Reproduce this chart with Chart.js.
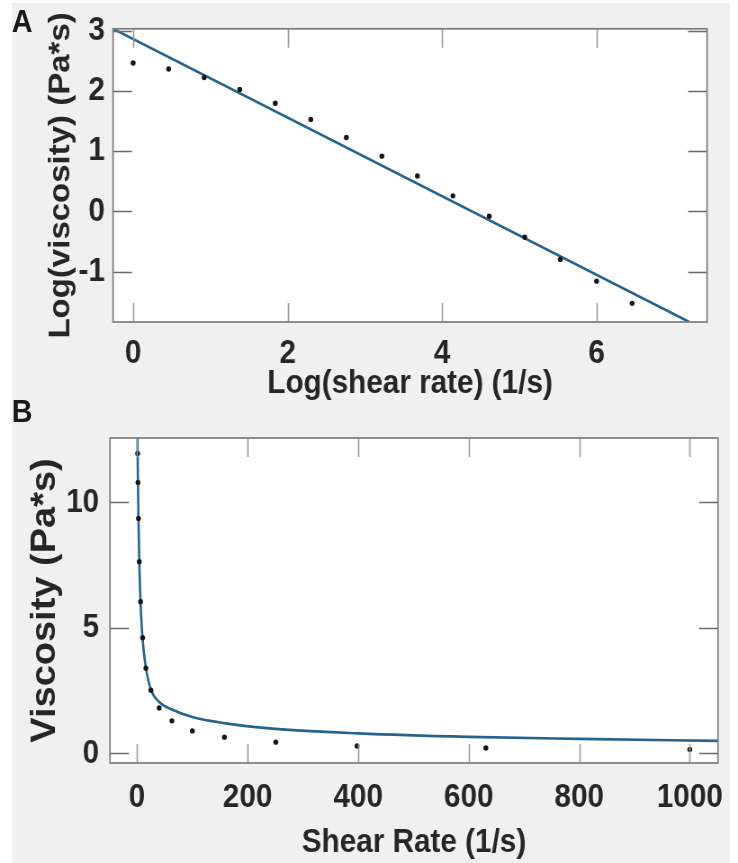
<!DOCTYPE html>
<html><head><meta charset="utf-8">
<script src="https://cdn.jsdelivr.net/npm/chart.js@4.4.0/dist/chart.umd.min.js"></script>
<style>
html,body{margin:0;padding:0;background:#fff;width:738px;height:863px;overflow:hidden;}
#bg{position:absolute;left:12px;top:3px;width:718px;height:860px;background:#f0f0f0;}
#wrap{position:absolute;left:0;top:0;width:820px;height:863px;transform:scaleX(0.9);transform-origin:0 0;}
.panel{position:absolute;font-family:"Liberation Sans",Arial,sans-serif;font-weight:bold;font-size:32px;color:#1a1a1a;line-height:32px;}
canvas{position:absolute;left:0;}
</style></head><body>
<div id="bg"></div>
<div id="wrap">
<div class="panel" style="left:13px;top:5px;">A</div>
<div class="panel" style="left:13px;top:395px;">B</div>
<canvas id="ca" width="820" height="410" style="top:0px"></canvas>
<canvas id="cb" width="820" height="463" style="top:400px"></canvas>
</div>
<script>
// Panel A: log-log data and linear fit
const logShearRate = [0, 0.46, 0.92, 1.38, 1.84, 2.30, 2.76, 3.22, 3.68, 4.14, 4.61, 5.07, 5.53, 6.00, 6.46];
const logViscosity = [2.47, 2.37, 2.23, 2.03, 1.80, 1.53, 1.23, 0.92, 0.59, 0.26, -0.08, -0.43, -0.80, -1.16, -1.53];
const logFitX = [-0.26, 7.2];
const logFitY = [3.04, -1.84];
const ticksLogX = [0, 2, 4, 6];
const ticksLogY = [-1, 0, 1, 2, 3];

// Panel B: viscosity vs shear rate and fitted curve
const shearRate = [1, 1.6, 2.5, 4, 6.3, 10, 16, 25, 40, 63, 100, 158, 251, 398, 631, 1000];
const viscosity = [11.95, 10.8, 9.36, 7.64, 6.05, 4.61, 3.40, 2.52, 1.81, 1.30, 0.90, 0.65, 0.45, 0.30, 0.22, 0.16];
const fitShearRate = [0.5, 1, 1.6, 2.5, 4, 6.3, 10, 16, 25, 40, 63, 100, 160, 250, 400, 600, 800, 1051];
const fitViscosity = [14.5, 12.0, 10.8, 9.4, 7.6, 6.0, 4.55, 3.4, 2.55, 2.05, 1.75, 1.45, 1.2, 0.98, 0.80, 0.66, 0.58, 0.50];
const ticksShear = [0, 200, 400, 600, 800, 1000];
const ticksVisc = [0, 5, 10];

const FONT = '"Liberation Sans", Arial, sans-serif';
const TXT = '#262626';

const framePlugin = {
  id: 'frame',
  beforeDraw(chart) {
    const {ctx, chartArea: a} = chart;
    ctx.save();
    ctx.fillStyle = '#ffffff';
    ctx.fillRect(a.left, a.top, a.right - a.left, a.bottom - a.top);
    ctx.restore();
  },
  afterDraw(chart) {
    const {ctx, chartArea: a, scales} = chart;
    const tlx = 19, tly = 21;
    ctx.save();
    ctx.lineWidth = 1.6;
    ctx.strokeStyle = '#9a9a9a';
    ctx.beginPath();
    scales.x.ticks.forEach(t => {
      const p = Math.round(scales.x.getPixelForValue(t.value)) + 0.5;
      ctx.moveTo(p, a.bottom); ctx.lineTo(p, a.bottom - tlx);
      ctx.moveTo(p, a.top); ctx.lineTo(p, a.top + tlx);
    });
    ctx.stroke();
    ctx.strokeStyle = '#6a6a6a';
    ctx.lineWidth = 1.5;
    ctx.beginPath();
    scales.y.ticks.forEach(t => {
      const p = Math.round(scales.y.getPixelForValue(t.value)) + 0.5;
      ctx.moveTo(a.left, p); ctx.lineTo(a.left + tly, p);
      ctx.moveTo(a.right, p); ctx.lineTo(a.right - tly, p);
    });
    ctx.stroke();
    ctx.strokeStyle = '#7c7c7c';
    ctx.lineWidth = 1.7;
    ctx.strokeRect(a.left, a.top, a.right - a.left, a.bottom - a.top);
    ctx.restore();
  }
};

function makeChart(id, cfg) {
  const pts = cfg.px.map((x, i) => ({x, y: cfg.py[i]}));
  const fit = cfg.fx.map((x, i) => ({x, y: cfg.fy[i]}));
  return new Chart(document.getElementById(id), {
    type: 'scatter',
    data: {datasets: [
      {data: pts, showLine: false, pointRadius: 2.7, pointBackgroundColor: '#151515', pointBorderWidth: 0, pointHoverRadius: 2.7},
      {data: fit, showLine: true, borderColor: '#26648e', borderWidth: 2.6, pointRadius: 0, pointHoverRadius: 0,
       cubicInterpolationMode: cfg.smooth ? 'monotone' : 'default', clip: 0}
    ]},
    options: {
      responsive: false, animation: false,
      layout: {padding: {left: 0, top: cfg.top, right: cfg.right, bottom: 0}},
      plugins: {legend: {display: false}, tooltip: {enabled: false}},
      scales: {
        x: {
          type: 'linear', min: cfg.xmin, max: cfg.xmax,
          afterBuildTicks: s => { s.ticks = cfg.xticks.map(v => ({value: v})); },
          afterFit: s => { s.height = cfg.xh; },
          grid: {display: false, drawTicks: false, tickLength: 0},
          border: {display: false},
          ticks: {padding: cfg.xpad, color: TXT, maxRotation: 0, autoSkip: false,
                  callback: v => String(v),
                  font: {family: FONT, size: 33, weight: 'bold'}},
          title: {display: true, text: cfg.xtitle, color: TXT,
                  font: {family: FONT, size: 33, weight: 'bold'}, padding: {top: cfg.xtpad, bottom: cfg.xtpad}}
        },
        y: {
          type: 'linear', min: cfg.ymin, max: cfg.ymax,
          afterBuildTicks: s => { s.ticks = cfg.yticks.map(v => ({value: v})); },
          afterFit: s => { s.width = cfg.yw; },
          grid: {display: false, drawTicks: false, tickLength: 0},
          border: {display: false},
          ticks: {padding: cfg.ypad, color: TXT, autoSkip: false,
                  callback: v => String(v),
                  font: {family: FONT, size: 33, weight: 'bold'}},
          title: {display: true, text: cfg.ytitle, color: TXT,
                  font: {family: FONT, size: cfg.ytsize, weight: 'bold'}, padding: {top: cfg.ytpad, bottom: cfg.ytpad}}
        }
      }
    },
    plugins: [framePlugin]
  });
}

// canvas is drawn 820px wide and shown squeezed to 738px (x factor 0.9)
makeChart('ca', {
  px: logShearRate, py: logViscosity, fx: logFitX, fy: logFitY, smooth: false,
  top: 21, right: 34.4, xmin: -0.26, xmax: 7.43, ymin: -1.84, ymax: 3.04,
  xticks: ticksLogX, yticks: ticksLogY, xh: 88, yw: 125.6, xpad: 12, ypad: 9,
  xtitle: 'Log(shear rate) (1/s)', xtpad: 6,
  ytitle: 'Log(viscosity) (Pa*s)', ytsize: 33, ytpad: 48
});

makeChart('cb', {
  px: shearRate, py: viscosity, fx: fitShearRate, fy: fitViscosity, smooth: true,
  top: 38, right: 22.2, xmin: -49, xmax: 1051, ymin: -0.38, ymax: 12.57,
  xticks: ticksShear, yticks: ticksVisc, xh: 100, yw: 122.2, xpad: 15, ypad: 12,
  xtitle: 'Shear Rate (1/s)', xtpad: 0,
  ytitle: 'Viscosity (Pa*s)', ytsize: 38, ytpad: 28
});
</script>
</body></html>
